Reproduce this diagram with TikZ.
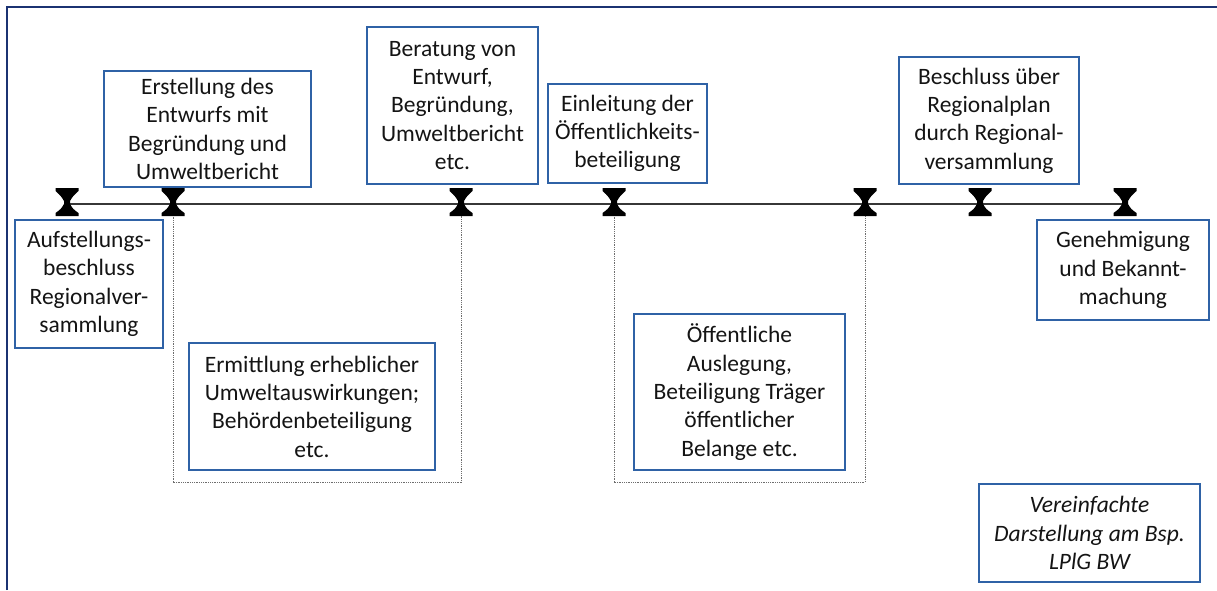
\documentclass[tikz,border=0pt]{standalone}
\usepackage{fontspec}
\setmainfont{Carlito}
\definecolor{boxblue}{HTML}{2F62A6}
\definecolor{framenavy}{HTML}{1B3272}
\definecolor{ink}{HTML}{141414}
\definecolor{dotgray}{HTML}{6E6E6E}
\begin{document}
\begin{tikzpicture}[x=1pt,y=-1pt,
  stepbox/.style={draw=boxblue, line width=1.1pt, inner sep=0pt, align=center,
    text=ink, font=\fontsize{23.5}{28.3}\selectfont},
  notebox/.style={stepbox, font=\fontsize{23.5}{28.3}\selectfont\itshape},
  timeline/.style={draw=ink!85, line width=1.4pt},
  phase/.style={draw=dotgray, line width=0.9pt, dash pattern=on 0.9pt off 0.9pt},
  frameline/.style={draw=framenavy, line width=2pt}]
\useasboundingbox (0,0) rectangle (1217,590);

% outer frame (top and left edge)
\draw[frameline] (7,590) -- (7,7) -- (1217,7);

% milestones on the time axis
\coordinate (m1) at (67,204);
\coordinate (m2) at (173,204);
\coordinate (m3) at (461,204);
\coordinate (m4) at (614,204);
\coordinate (m5) at (865,204);
\coordinate (m6) at (980,204);
\coordinate (m7) at (1125,204);

% lower corners of the two phase brackets
\coordinate (low1) at (317,482);
\coordinate (low2) at (740,482);

% phase brackets
\draw[phase] (m2) |- (low1) -| (m3);
\draw[phase] (m4) |- (low2) -| (m5);

% time axis
\draw[timeline] (m1) -- (m2) -- (m3) -- (m4) -- (m5) -- (m6) -- (m7);

% hourglass milestone markers
\foreach \m in {m1,m2,m3,m4,m5,m6,m7}{
  \fill[black] ([shift={(-11.5,-16)}]\m) -- ([shift={(11.5,-16)}]\m)
    -- ([shift={(11.5,-13)}]\m) .. controls ([shift={(6,-8)}]\m) .. ([shift={(3,-3)}]\m)
    -- ([shift={(3,0)}]\m) .. controls ([shift={(6,5)}]\m) .. ([shift={(11.5,9)}]\m)
    -- ([shift={(11.5,12)}]\m) -- ([shift={(-11.5,12)}]\m)
    -- ([shift={(-11.5,9)}]\m) .. controls ([shift={(-6,5)}]\m) .. ([shift={(-3,0)}]\m)
    -- ([shift={(-3,-3)}]\m) .. controls ([shift={(-6,-8)}]\m) .. ([shift={(-11.5,-13)}]\m)
    -- cycle;
}

% process steps
\node[stepbox, minimum width=148pt, minimum height=128pt] (a) at (89,284)
  {Aufstellungs-\\beschluss\\Regionalver-\\sammlung};
\node[stepbox, minimum width=207pt, minimum height=116pt] (b) at (207.5,129)
  {Erstellung des\\Entwurfs mit\\Begründung und\\Umweltbericht};
\node[stepbox, minimum width=171pt, minimum height=157pt] (c) at (452.5,105.5)
  {Beratung von\\Entwurf,\\Begründung,\\Umweltbericht\\etc.};
\node[stepbox, minimum width=159pt, minimum height=99pt] (d) at (627.5,133.5)
  {Einleitung der\\Öffentlichkeits-\\beteiligung};
\node[stepbox, minimum width=180pt, minimum height=127pt] (e) at (989,120.5)
  {Beschluss über\\Regionalplan\\durch Regional-\\versammlung};
\node[stepbox, minimum width=172pt, minimum height=100pt] (f) at (1123,270)
  {Genehmigung\\und Bekannt-\\machung};
\node[stepbox, minimum width=246pt, minimum height=127pt] (g) at (312,406.5)
  {Ermittlung erheblicher\\Umweltauswirkungen;\\Behördenbeteiligung\\etc.};
\node[stepbox, minimum width=211pt, minimum height=156pt] (h) at (739.5,392)
  {Öffentliche\\Auslegung,\\Beteiligung Träger\\öffentlicher\\Belange etc.};

% note
\node[notebox, minimum width=221pt, minimum height=98pt] (note) at (1089.5,533)
  {Vereinfachte\\Darstellung am Bsp.\\LPlG BW};
\end{tikzpicture}
\end{document}
